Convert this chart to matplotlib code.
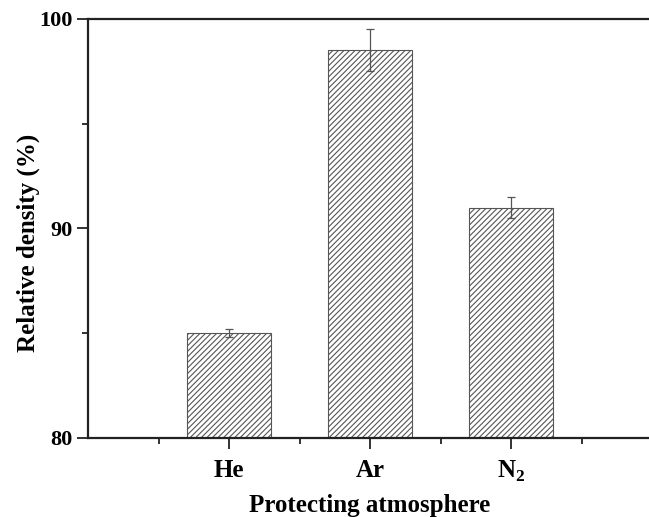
import matplotlib
matplotlib.use("Agg")
import matplotlib.pyplot as plt
from matplotlib.ticker import MultipleLocator

plt.rcParams["font.family"] = ["Liberation Serif", "DejaVu Serif"]
plt.rcParams["font.weight"] = "bold"
plt.rcParams["mathtext.fontset"] = "custom"
plt.rcParams["mathtext.rm"] = "Liberation Serif:bold"
plt.rcParams["mathtext.bf"] = "Liberation Serif:bold"
plt.rcParams["hatch.color"] = "#555555"
plt.rcParams["hatch.linewidth"] = 0.8

atmospheres = ["He", "Ar", r"N$_2$"]
density = [85.0, 98.5, 91.0]
density_err = [0.2, 1.0, 0.5]
positions = [1, 2, 3]

fig = plt.figure(figsize=(6.49, 5.17), dpi=100)
ax = fig.add_axes([88 / 649, 79 / 517, 564 / 649, 419 / 517])

ax.bar(
    positions,
    [d - 80 for d in density],
    bottom=80,
    width=0.6,
    color="white",
    edgecolor="#555555",
    linewidth=0.8,
    hatch="//////",
)
ax.errorbar(
    positions,
    density,
    yerr=density_err,
    fmt="none",
    ecolor="#555555",
    elinewidth=0.9,
    capsize=3,
    capthick=0.9,
)

ax.set_xlim(0, 4)
ax.set_ylim(80, 100)
ax.set_xticks(positions)
ax.set_xticklabels(atmospheres, fontsize=18, fontweight="bold")
ax.set_xticks([0.5, 1.5, 2.5, 3.5], minor=True)
ax.set_yticks([80, 90, 100])
ax.yaxis.set_minor_locator(MultipleLocator(5))
ax.tick_params(axis="y", labelsize=16)
ax.tick_params(which="major", direction="out", length=8, width=1.3, color="#222222")
ax.tick_params(which="minor", direction="out", length=4, width=1.3, color="#222222")
ax.tick_params(axis="x", which="major", pad=7)
ax.tick_params(axis="y", which="major", pad=3)

for side in ["left", "bottom", "top", "right"]:
    ax.spines[side].set_linewidth(1.6)
    ax.spines[side].set_color("#222222")

ax.set_xlabel("Protecting atmosphere", fontsize=18, fontweight="bold", labelpad=7)
ax.set_ylabel("Relative density (%)", fontsize=18, fontweight="bold")
ax.yaxis.set_label_coords(-0.085, 0.465)

fig.savefig("out.png", dpi=100)
